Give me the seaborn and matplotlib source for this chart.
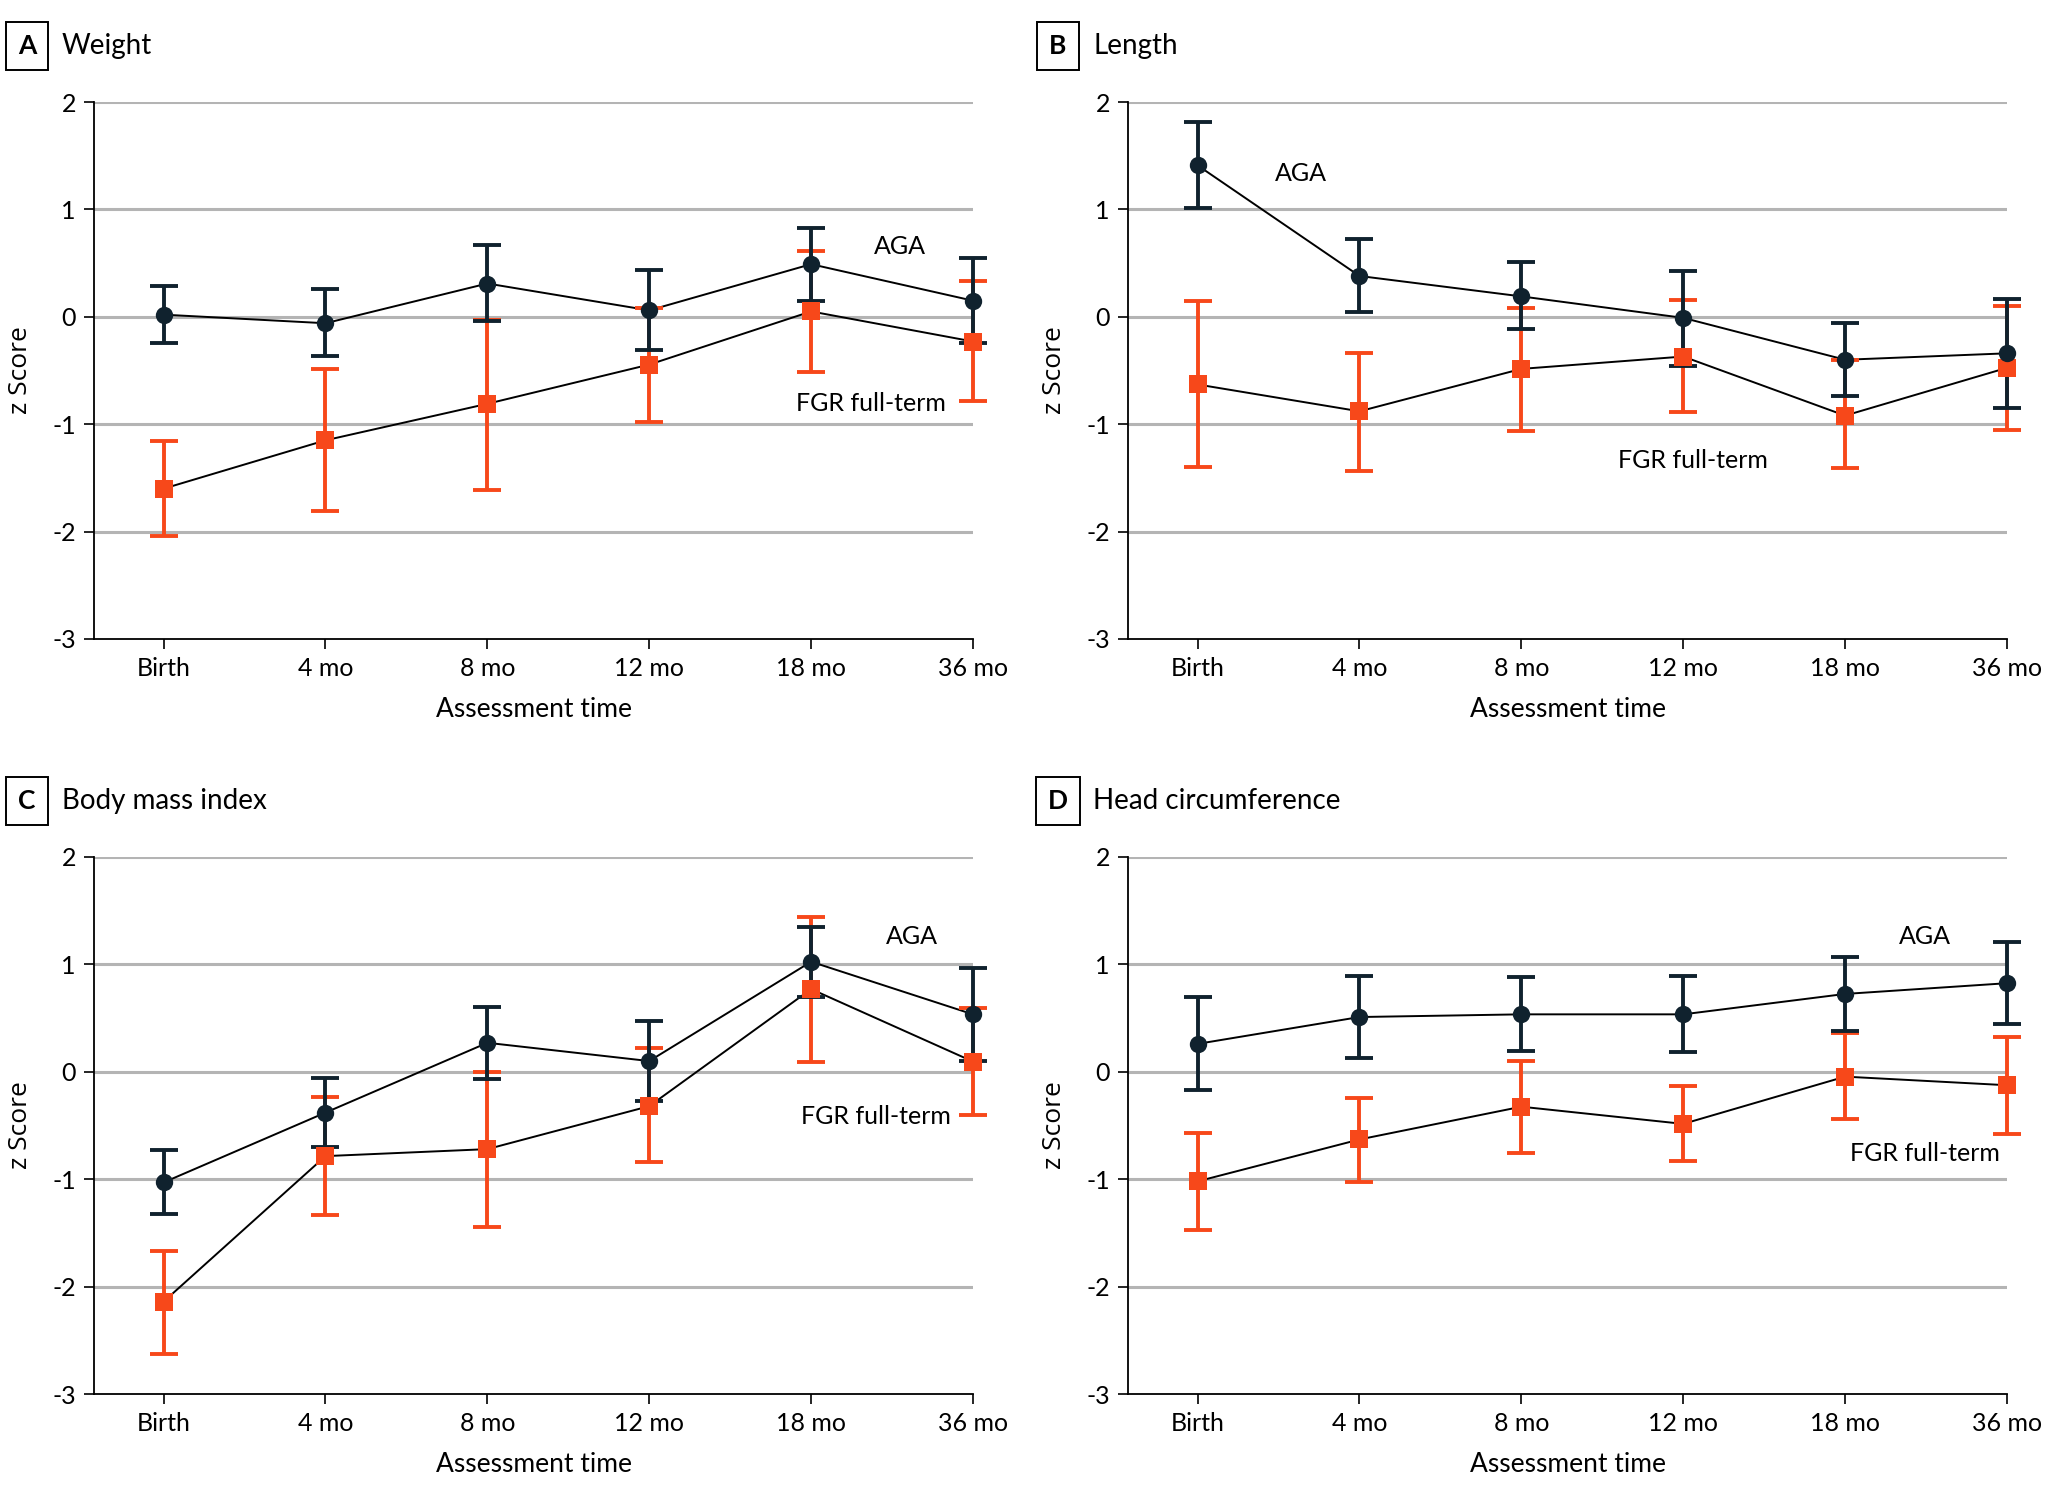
import matplotlib
matplotlib.use("Agg")
import matplotlib.pyplot as plt
import seaborn as sns
import pandas as pd

# Assessment times (categorical x axis)
times = ["Birth", "4 mo", "8 mo", "12 mo", "18 mo", "36 mo"]

# Panel A - Weight
weight_aga = [0.02, -0.06, 0.31, 0.06, 0.49, 0.15]
weight_aga_lo = [-0.24, -0.365, -0.035, -0.31, 0.15, -0.24]
weight_aga_hi = [0.285, 0.26, 0.67, 0.44, 0.83, 0.55]
weight_fgr = [-1.60, -1.15, -0.81, -0.445, 0.05, -0.23]
weight_fgr_lo = [-2.04, -1.81, -1.61, -0.98, -0.51, -0.78]
weight_fgr_hi = [-1.16, -0.49, -0.03, 0.08, 0.61, 0.33]

# Panel B - Length
length_aga = [1.41, 0.38, 0.19, -0.01, -0.40, -0.34]
length_aga_lo = [1.01, 0.045, -0.115, -0.46, -0.74, -0.85]
length_aga_hi = [1.81, 0.72, 0.51, 0.43, -0.06, 0.17]
length_fgr = [-0.63, -0.88, -0.485, -0.37, -0.92, -0.475]
length_fgr_lo = [-1.40, -1.44, -1.06, -0.89, -1.41, -1.05]
length_fgr_hi = [0.15, -0.34, 0.085, 0.155, -0.40, 0.10]

# Panel C - Body mass index
bmi_aga = [-1.03, -0.38, 0.27, 0.10, 1.025, 0.535]
bmi_aga_lo = [-1.32, -0.70, -0.07, -0.27, 0.70, 0.10]
bmi_aga_hi = [-0.73, -0.06, 0.60, 0.47, 1.35, 0.97]
bmi_fgr = [-2.14, -0.785, -0.72, -0.32, 0.77, 0.095]
bmi_fgr_lo = [-2.625, -1.33, -1.445, -0.84, 0.09, -0.40]
bmi_fgr_hi = [-1.67, -0.23, -0.005, 0.22, 1.44, 0.59]

# Panel D - Head circumference
head_aga = [0.26, 0.51, 0.535, 0.535, 0.725, 0.825]
head_aga_lo = [-0.17, 0.13, 0.19, 0.18, 0.38, 0.445]
head_aga_hi = [0.695, 0.895, 0.88, 0.89, 1.07, 1.21]
head_fgr = [-1.02, -0.63, -0.325, -0.485, -0.045, -0.125]
head_fgr_lo = [-1.47, -1.025, -0.755, -0.835, -0.44, -0.58]
head_fgr_hi = [-0.57, -0.245, 0.10, -0.13, 0.36, 0.325]

AGA_COLOR = '#10222e'
FGR_COLOR = '#f7481a'
GRID_COLOR = '#b4b4b4'

sns.set_theme(style="white")
plt.rcParams['font.family'] = ['Lato', 'DejaVu Sans']

W, H = 2048, 1500
fig = plt.figure(figsize=(W / 100, H / 100), dpi=100)


def make_frame(aga, aga_lo, aga_hi, fgr, fgr_lo, fgr_hi):
    rows = []
    for i, t in enumerate(times):
        rows.append(dict(pos=i, time=t, group='AGA', z=aga[i], lo=aga_lo[i], hi=aga_hi[i]))
    for i, t in enumerate(times):
        rows.append(dict(pos=i, time=t, group='FGR full-term', z=fgr[i], lo=fgr_lo[i], hi=fgr_hi[i]))
    return pd.DataFrame(rows)


def draw_panel(rect, letter, title, box_px, df, aga_label_xy, fgr_label_xy):
    ax = fig.add_axes(rect)

    # connecting lines
    sns.lineplot(data=df, x='pos', y='z', units='group', estimator=None,
                 color='black', linewidth=1.4, ax=ax, zorder=3, legend=False)

    # error bars: FGR below, AGA above
    for grp, color, zb in [('FGR full-term', FGR_COLOR, 4), ('AGA', AGA_COLOR, 5)]:
        d = df[df.group == grp]
        eb = ax.errorbar(d.pos, d.z, yerr=[d.z - d.lo, d.hi - d.z], fmt='none',
                         ecolor=color, elinewidth=2.8, capsize=10, capthick=2.8, zorder=zb)
        for art in eb.lines[1] + eb.lines[2]:
            art.set_clip_on(False)
    for grp, color, marker, zb in [('FGR full-term', FGR_COLOR, 's', 6),
                                   ('AGA', AGA_COLOR, 'o', 7)]:
        d = df[df.group == grp]
        ax.plot(d.pos, d.z, linestyle='none', marker=marker, markersize=12.5,
                color=color, markeredgewidth=0, zorder=zb, clip_on=False)
    for ln in ax.lines:
        ln.set_clip_on(False)

    ax.set_xlim(-0.43, 5)
    ax.set_ylim(-3, 2)
    ax.set_yticks([-3, -2, -1, 0, 1, 2])
    ax.set_yticklabels(['-3', '-2', '-1', '0', '1', '2'])
    ax.set_xticks(range(len(times)))
    ax.set_xticklabels(times)
    for yv in [-2, -1, 0, 1, 2]:
        ax.axhline(yv, color=GRID_COLOR, linewidth=2.2, zorder=1)

    ax.tick_params(axis='both', which='major', direction='out', length=7, width=1.2,
                   color='black', labelsize=18, labelcolor='black', pad=6,
                   bottom=True, left=True)
    for side in ['top', 'right']:
        ax.spines[side].set_visible(False)
    for side in ['left', 'bottom']:
        ax.spines[side].set_color('black')
        ax.spines[side].set_linewidth(1.3)

    ax.set_xlabel('Assessment time', fontsize=19, color='black', labelpad=12)
    ax.set_ylabel('z Score', fontsize=19, color='black', labelpad=14,
                  family=['Open Sans', 'DejaVu Sans'])

    ax.text(aga_label_xy[0], aga_label_xy[1], 'AGA', fontsize=18, ha='center',
            va='center', color='black', zorder=8)
    ax.text(fgr_label_xy[0], fgr_label_xy[1], 'FGR full-term', fontsize=18, ha='center',
            va='center', color='black', zorder=8)

    # panel letter box and title
    bx, by = box_px
    fig.text(bx / W, 1 - by / H, letter, fontsize=19, fontweight='bold', ha='center',
             va='center', color='black',
             bbox=dict(boxstyle='square,pad=0.45', facecolor='white', edgecolor='black',
                       linewidth=1.4))
    fig.text((bx + 35) / W, 1 - by / H, title, fontsize=20, ha='left', va='center',
             color='black')
    return ax


ax_h = (639 - 102) / H
ax_w = (973 - 94) / W
top_row_bottom = 1 - 639 / H
bot_row_bottom = 1 - 1394 / H
left_col = 94 / W
right_col = 1128 / W

draw_panel([left_col, top_row_bottom, ax_w, ax_h], 'A', 'Weight', (27, 46),
           make_frame(weight_aga, weight_aga_lo, weight_aga_hi,
                      weight_fgr, weight_fgr_lo, weight_fgr_hi),
           (4.55, 0.65), (4.37, -0.81))
draw_panel([right_col, top_row_bottom, ax_w, ax_h], 'B', 'Length', (1058, 46),
           make_frame(length_aga, length_aga_lo, length_aga_hi,
                      length_fgr, length_fgr_lo, length_fgr_hi),
           (0.64, 1.33), (3.06, -1.335))
draw_panel([left_col, bot_row_bottom, ax_w, ax_h], 'C', 'Body mass index', (27, 801),
           make_frame(bmi_aga, bmi_aga_lo, bmi_aga_hi,
                      bmi_fgr, bmi_fgr_lo, bmi_fgr_hi),
           (4.62, 1.26), (4.40, -0.42))
draw_panel([right_col, bot_row_bottom, ax_w, ax_h], 'D', 'Head circumference', (1058, 801),
           make_frame(head_aga, head_aga_lo, head_aga_hi,
                      head_fgr, head_fgr_lo, head_fgr_hi),
           (4.49, 1.26), (4.49, -0.76))

fig.savefig('out.png', dpi=100, facecolor='white')
